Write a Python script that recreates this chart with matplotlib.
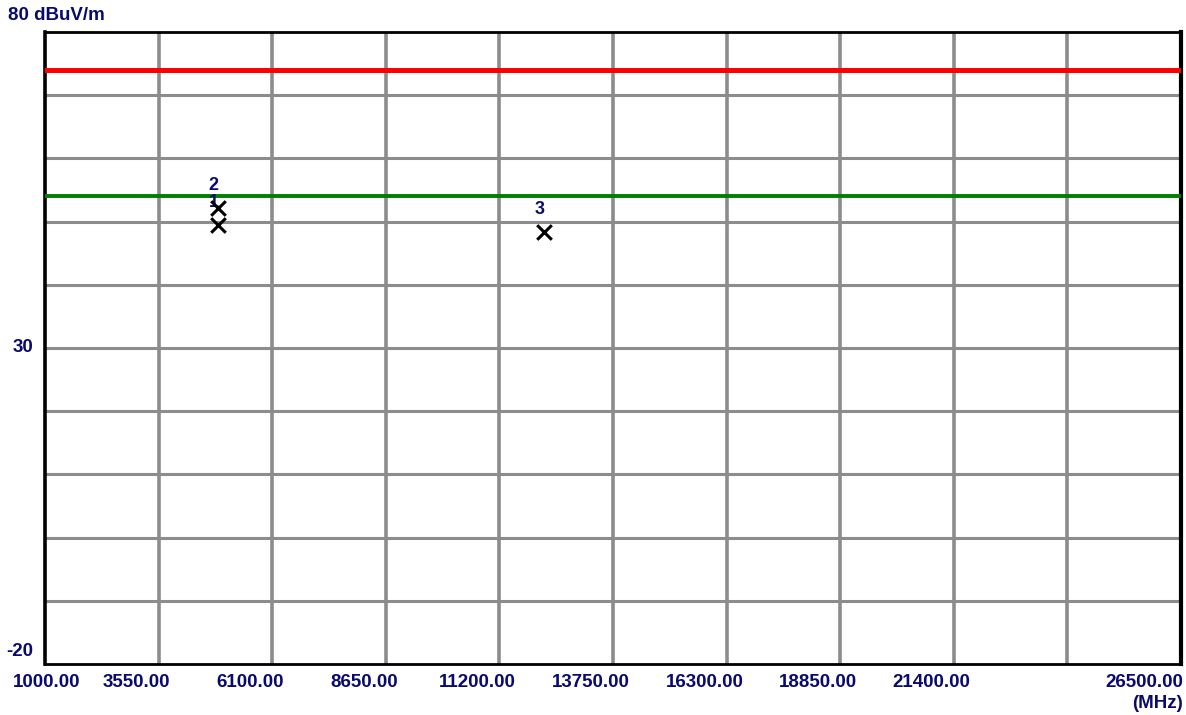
import matplotlib
matplotlib.use("Agg")
import matplotlib.pyplot as plt
import matplotlib.transforms as mtransforms
import numpy as np

# Data
x_min, x_max = 1000.0, 26500.0
y_min, y_max = -20, 80
x_ticks = [1000.00, 3550.00, 6100.00, 8650.00, 11200.00, 13750.00, 16300.00, 18850.00, 21400.00, 23950.00, 26500.00]
x_tick_labels = ["1000.00", "3550.00", "6100.00", "8650.00", "11200.00", "13750.00", "16300.00", "18850.00", "21400.00", "", "26500.00"]
y_ticks = [-20, -10, 0, 10, 20, 30, 40, 50, 60, 70, 80]
limit_red = 74.0
limit_green = 54.0
marker_ids = ["1", "2", "3"]
marker_freq = [4880.0, 4880.0, 12200.0]
marker_level = [49.5, 52.2, 48.3]

navy = "#0a0a6e"
fig = plt.figure(figsize=(11.86, 7.15), dpi=100)
ax = fig.add_axes([45/1186, (715-664)/715, 1136/1186, 632/715])
ax.set_xlim(x_min, x_max)
ax.set_ylim(y_min, y_max)

for xt in x_ticks[1:-1]:
    ax.axvline(xt, color="#8c8c8c", lw=2.6, zorder=1)
for yt in y_ticks[1:-1]:
    ax.axhline(yt, color="#8c8c8c", lw=2.2, zorder=1)

ax.axhline(limit_red, color="#ff0000", lw=3.6, zorder=3)
ax.axhline(limit_green, color="#008000", lw=2.8, zorder=3)

ax.scatter(marker_freq, marker_level, marker="x", s=110, color="black", linewidths=2.2, zorder=5)
for mid, f, l in zip(marker_ids, marker_freq, marker_level):
    ax.annotate(mid, (f, l), xytext=(-4, 14), textcoords="offset pixels",
                ha="center", va="bottom", fontsize=13, fontweight="bold",
                color=navy, family="Liberation Sans", zorder=4)

for s in ax.spines.values():
    s.set_color("black")
    s.set_linewidth(2.0)
ax.spines["left"].set_linewidth(2.6)
ax.spines["right"].set_linewidth(3.0)

ax.set_xticks([])
ax.set_yticks([])

tfont = dict(fontsize=13.5, fontweight="bold", color=navy, family="Liberation Sans")
trans = ax.get_xaxis_transform()
for i, (xt, lab) in enumerate(zip(x_ticks, x_tick_labels)):
    if not lab:
        continue
    if i == 0:
        off, ha = 2, "center"
    elif i == len(x_ticks) - 1:
        off, ha = 2, "right"
    else:
        off, ha = -22, "center"
    t = mtransforms.offset_copy(trans, fig=fig, x=off, y=-10, units="dots")
    ax.text(xt, 0, lab, transform=t, ha=ha, va="top", **tfont)

fig.text(1183/1186, 1 - 704/715, "(MHz)", ha="right", va="center", **tfont)

yt = ax.get_yaxis_transform()
ax.text(-0.01, 30, "30", transform=yt, ha="right", va="center", **tfont)
ax.text(-0.01, -20, "-20", transform=mtransforms.offset_copy(yt, fig=fig, x=0, y=12, units="dots"),
        ha="right", va="center", **tfont)
fig.text(8/1186, 1 - 16/715, "80 dBuV/m", ha="left", va="center", **tfont)

fig.savefig("out.png", dpi=100)
